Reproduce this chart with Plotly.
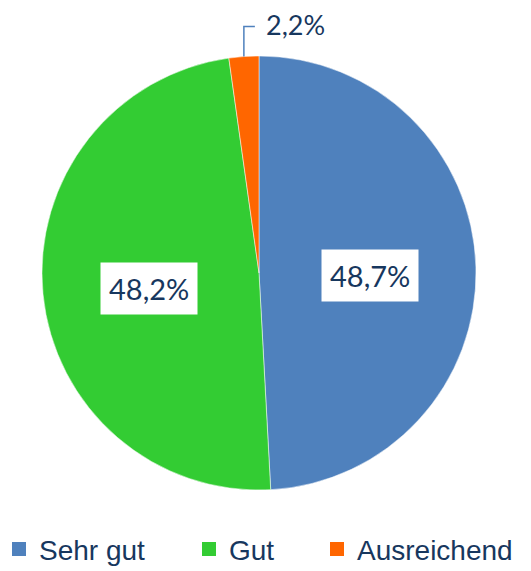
import math
import plotly.graph_objects as go

categories = ["Sehr gut", "Gut", "Ausreichend"]
values = [48.7, 48.2, 2.2]
labels_text = ["48,7%", "48,2%", "2,2%"]
colors = ["#4F81BD", "#33CC33", "#FF6600"]

# page body has an 8px margin: work in screen pixels and shift
OFF = 8
W, H = 531 - OFF, 571 - OFF
cx_px, cy_px, R = 259 - OFF, 273 - OFF, 217
TXT = "#17375E"

fig = go.Figure(go.Pie(
    labels=categories, values=values, sort=False, direction="clockwise",
    rotation=0, marker=dict(colors=colors, line=dict(color="white", width=0.5)),
    textinfo="none", hoverinfo="label+percent", showlegend=False,
    domain=dict(x=[(cx_px - R) / W, (cx_px + R) / W],
                y=[1 - (cy_px + R) / H, 1 - (cy_px - R) / H]),
))

def px2paper(x, y):
    return x / W, 1 - y / H

total = sum(values)
cum = 0
annotations = []
shapes = []
for v, t in zip(values, labels_text):
    frac = v / total
    mid = (cum + frac / 2) * 2 * math.pi
    cum += frac
    if frac > 0.1:
        lx = cx_px + 0.51 * R * math.sin(mid)
        ly = cy_px - 0.51 * R * math.cos(mid)
        px, py = px2paper(lx, ly)
        annotations.append(dict(x=px, y=py, xref="paper", yref="paper", text=t,
                                xanchor="center", yanchor="middle", yshift=-5,
                                showarrow=False, bgcolor="white", borderpad=8,
                                font=dict(family="Lato", size=29, color=TXT)))
    else:
        ex = cx_px + R * math.sin(mid)
        ey = cy_px - R * math.cos(mid)
        p0 = px2paper(ex, ey)
        p1 = px2paper(ex, ey - 30)
        p2 = px2paper(ex + 11, ey - 30)
        shapes.append(dict(type="path", xref="paper", yref="paper",
                           path=f"M {p0[0]},{p0[1]} L {p1[0]},{p1[1]} L {p2[0]},{p2[1]}",
                           line=dict(color="#4F81BD", width=1.5)))
        tp = px2paper(ex + 20, ey - 32)
        annotations.append(dict(x=tp[0], y=tp[1], xref="paper", yref="paper", text=t,
                                showarrow=False, xanchor="left", yanchor="middle",
                                font=dict(family="Lato", size=27, color=TXT)))

# one legend per category, spread across the bottom like the original
legend_marker_x = [19, 209, 337]   # screen px of marker centres
legend_names = ["legend", "legend2", "legend3"]
layout_legends = {}
for cat, col, lname, mx in zip(categories, colors, legend_names, legend_marker_x):
    fig.add_trace(go.Scatter(x=[None], y=[None], mode="markers", name=cat,
                             marker=dict(symbol="square", size=14, color=col),
                             legend=lname, hoverinfo="skip"))
    layout_legends[lname] = dict(
        orientation="h", x=(mx - OFF - 20) / W, xanchor="left",
        y=0.083, yanchor="top", bgcolor="rgba(0,0,0,0)",
        font=dict(family="Liberation Sans", size=28, color=TXT),
        itemclick=False, itemdoubleclick=False)

fig.update_layout(
    width=W, height=H, margin=dict(l=0, r=0, t=0, b=0, autoexpand=False),
    paper_bgcolor="white", plot_bgcolor="white",
    annotations=annotations, shapes=shapes,
    xaxis=dict(visible=False), yaxis=dict(visible=False),
    showlegend=True,
    **layout_legends,
)

fig.write_html("out.html")
